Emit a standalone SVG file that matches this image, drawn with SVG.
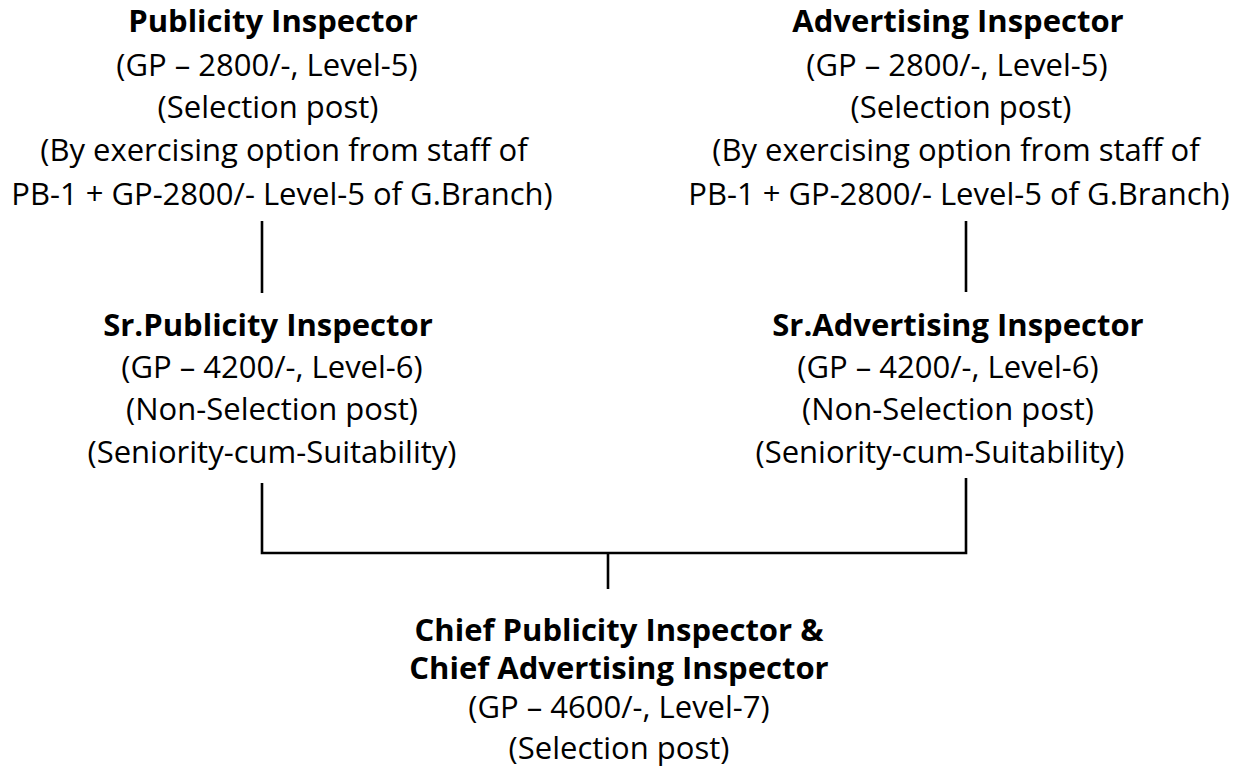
<svg xmlns="http://www.w3.org/2000/svg" width="1249" height="776" viewBox="0 0 1249 776">
<style>
text{font-family:"Open Sans","Noto Sans","Liberation Sans",sans-serif;font-size:31px;fill:#000;text-anchor:middle}
.b{font-weight:bold}
.c{stroke:#000;stroke-width:2.6;fill:none}
</style>
<rect width="1249" height="776" fill="#fff"/>
<g id="publicity-inspector">
<text class="b" x="273" y="32">Publicity Inspector</text>
<text x="267" y="76">(GP – 2800/-, Level-5)</text>
<text x="268" y="118">(Selection post)</text>
<text x="284" y="161">(By exercising option from staff of</text>
<text x="282" y="205">PB-1 + GP-2800/- Level-5 of G.Branch)</text>
</g>
<g id="advertising-inspector">
<text class="b" x="958" y="32">Advertising Inspector</text>
<text x="957" y="76">(GP – 2800/-, Level-5)</text>
<text x="961" y="118">(Selection post)</text>
<text x="956" y="161">(By exercising option from staff of</text>
<text x="959" y="205">PB-1 + GP-2800/- Level-5 of G.Branch)</text>
</g>
<g id="sr-publicity-inspector">
<text class="b" x="268" y="336">Sr.Publicity Inspector</text>
<text x="272" y="378">(GP – 4200/-, Level-6)</text>
<text x="272" y="420">(Non-Selection post)</text>
<text x="272" y="463">(Seniority-cum-Suitability)</text>
</g>
<g id="sr-advertising-inspector">
<text class="b" x="958" y="336">Sr.Advertising Inspector</text>
<text x="948" y="378">(GP – 4200/-, Level-6)</text>
<text x="948" y="420">(Non-Selection post)</text>
<text x="940" y="463">(Seniority-cum-Suitability)</text>
</g>
<g id="chief-inspector">
<text class="b" x="619" y="641">Chief Publicity Inspector &amp;</text>
<text class="b" x="619" y="679">Chief Advertising Inspector</text>
<text x="619" y="718">(GP – 4600/-, Level-7)</text>
<text x="619" y="759">(Selection post)</text>
</g>
<g id="connectors">
<line class="c" x1="262" y1="221" x2="262" y2="293"/>
<line class="c" x1="966" y1="221" x2="966" y2="292"/>
<polyline class="c" points="262,483 262,553 966,553 966,478"/>
<line class="c" x1="608" y1="553" x2="608" y2="589"/>
</g>
</svg>
